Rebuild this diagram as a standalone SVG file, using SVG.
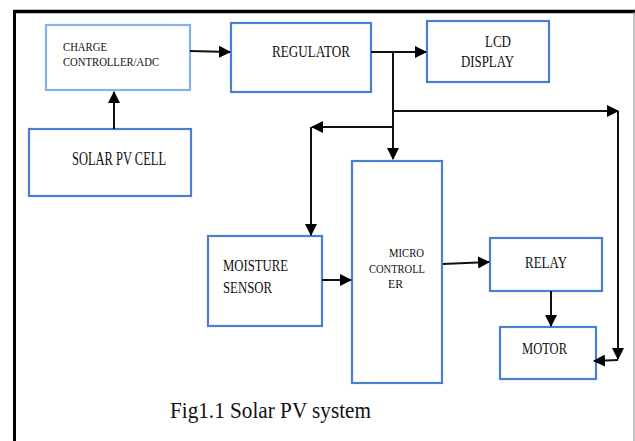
<svg xmlns="http://www.w3.org/2000/svg" width="635" height="441" viewBox="0 0 635 441">
<defs>
<marker id="ah" markerUnits="userSpaceOnUse" markerWidth="12" markerHeight="12" viewBox="0 0 12 12" refX="11" refY="6" orient="auto">
<path d="M0,0 L12,6 L0,12 Z" fill="#000"/>
</marker>
<style>
.box{fill:#fff;stroke:#4a7fd4;stroke-width:2.2}
.lbox{fill:#fff;stroke:#86b4e6;stroke-width:2.2}
.t{fill:#111}
.ca{stroke:#111;stroke-width:2;fill:none;marker-end:url(#ah)}
</style>
</defs>
<rect width="635" height="441" fill="#fff"/>
<g id="frame">
<line x1="14" y1="11.5" x2="635" y2="11.5" stroke="#000" stroke-width="3.5"/>
<line x1="14.5" y1="10" x2="14.5" y2="441" stroke="#000" stroke-width="3"/>
<line x1="634" y1="12" x2="634" y2="441" stroke="#888" stroke-width="1"/>
</g>
<g font-family="Liberation Serif, Tinos, DejaVu Serif, serif">
<g id="charge">
<rect class="lbox" x="46" y="25" width="144" height="65"/>
<text class="t" x="63" y="51" font-size="12.5" textLength="44" lengthAdjust="spacingAndGlyphs">CHARGE</text>
<text class="t" x="63" y="66" font-size="12.5" textLength="96" lengthAdjust="spacingAndGlyphs">CONTROLLER/ADC</text>
</g>
<g id="regulator">
<rect class="box" x="231" y="23" width="140" height="69"/>
<text class="t" x="272" y="57" font-size="16" textLength="78" lengthAdjust="spacingAndGlyphs">REGULATOR</text>
</g>
<g id="lcd">
<rect class="box" x="427" y="21" width="122" height="61"/>
<text class="t" x="485" y="47" font-size="17" textLength="26" lengthAdjust="spacingAndGlyphs">LCD</text>
<text class="t" x="461" y="67" font-size="17" textLength="53" lengthAdjust="spacingAndGlyphs">DISPLAY</text>
</g>
<g id="solar">
<rect class="box" x="29" y="129" width="162" height="67"/>
<text class="t" x="72" y="165" font-size="18" textLength="94" lengthAdjust="spacingAndGlyphs">SOLAR PV CELL</text>
</g>
<g id="micro">
<rect class="box" x="352" y="161" width="90" height="222"/>
<text class="t" x="389" y="257" font-size="12.5" textLength="35" lengthAdjust="spacingAndGlyphs">MICRO</text>
<text class="t" x="369" y="273" font-size="12.5" textLength="56" lengthAdjust="spacingAndGlyphs">CONTROLL</text>
<text class="t" x="388" y="288" font-size="12.5" textLength="15" lengthAdjust="spacingAndGlyphs">ER</text>
</g>
<g id="moisture">
<rect class="box" x="208" y="236" width="114" height="90"/>
<text class="t" x="223" y="271" font-size="16" textLength="65" lengthAdjust="spacingAndGlyphs">MOISTURE</text>
<text class="t" x="223" y="293" font-size="16" textLength="49" lengthAdjust="spacingAndGlyphs">SENSOR</text>
</g>
<g id="relay">
<rect class="box" x="490" y="238" width="112" height="53"/>
<text class="t" x="525" y="268" font-size="16" textLength="42" lengthAdjust="spacingAndGlyphs">RELAY</text>
</g>
<g id="motor">
<rect class="box" x="500" y="327" width="96" height="52"/>
<text class="t" x="522" y="354" font-size="16" textLength="45" lengthAdjust="spacingAndGlyphs">MOTOR</text>
</g>
<text class="t" x="170" y="418" font-size="24" textLength="201" lengthAdjust="spacingAndGlyphs">Fig1.1 Solar PV system</text>
</g>
<g id="connectors">
<line class="ca" x1="114" y1="129" x2="114" y2="92"/>
<line class="ca" x1="190" y1="51" x2="230" y2="52"/>
<line class="ca" x1="371" y1="52" x2="426" y2="52"/>
<line class="ca" x1="393" y1="52" x2="393" y2="159"/>
<polyline class="ca" points="393,111 618,111"/>
<polyline class="ca" points="618,111 618,359"/>
<polyline class="ca" points="618,360 594,361"/>
<polyline class="ca" points="393,127 312,127"/>
<polyline class="ca" points="311,127 311,235"/>
<line class="ca" x1="322" y1="280" x2="351" y2="280"/>
<line class="ca" x1="443" y1="264" x2="489" y2="262"/>
<line class="ca" x1="551" y1="291" x2="551" y2="326"/>
</g>
</svg>
